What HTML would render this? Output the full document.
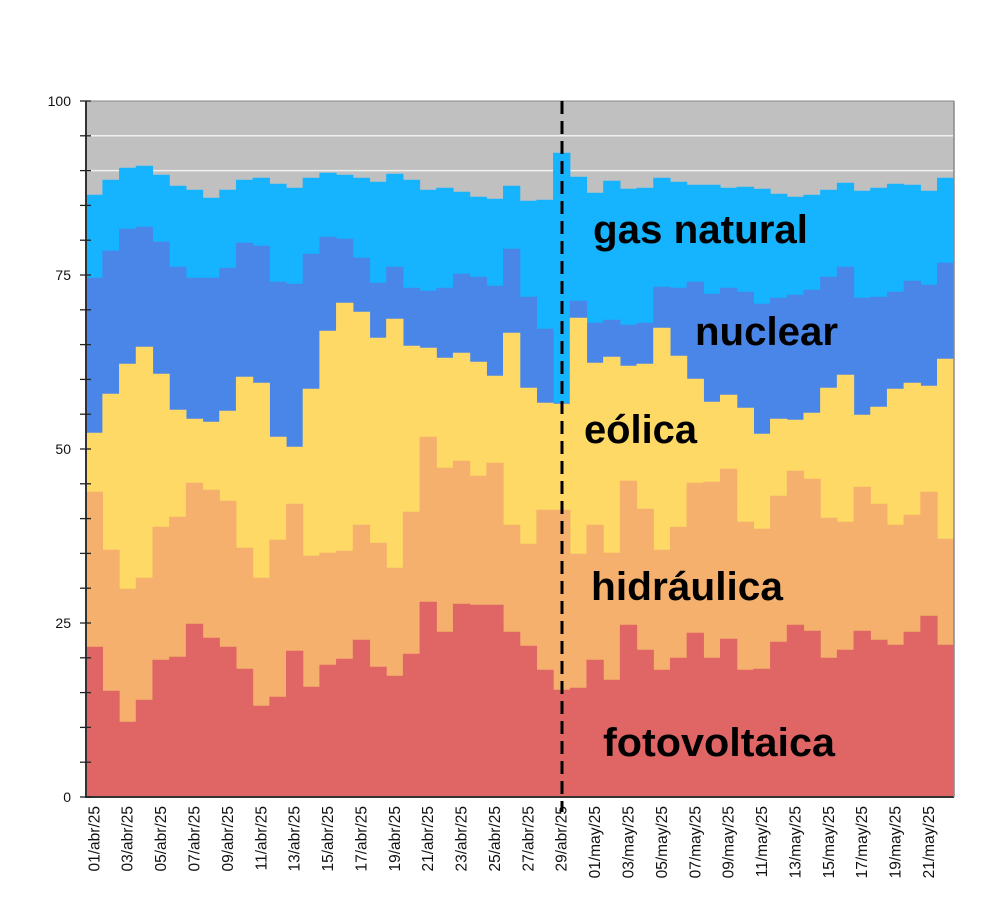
<!DOCTYPE html>
<html><head><meta charset="utf-8"><style>
html,body{margin:0;padding:0;background:#fff;}
svg{display:block;}
text{font-family:"Liberation Sans",Arial,sans-serif;}
</style></head><body>
<svg id="s" width="1000" height="920" xmlns="http://www.w3.org/2000/svg"></svg>
<script>
const gas=[195,180,168,166,175,186,190,198,190,180,178,184,188,178,173,175,178,182,174,180,190,188,192,197,199,186,201,200,153,177,193,181,189,188,178,182,185,185,188,187,189,194,197,195,190,183,191,188,184,185,191,178];
const nuc=[278,251,229,227,242,267,278,278,268,243,246,282,284,254,237,239,258,283,267,288,291,288,274,277,286,249,297,329,403,301,323,320,325,323,287,288,282,294,288,292,304,298,295,290,277,267,298,297,292,281,285,263];
const eol=[433,394,364,347,374,410,419,422,411,377,383,437,447,389,331,303,312,338,319,346,348,358,353,362,376,333,388,403,404,318,363,357,366,364,328,356,379,402,395,408,434,419,420,413,388,375,415,407,389,383,386,359];
const hid=[492,550,589,578,527,517,483,490,501,548,578,540,504,556,553,551,525,543,568,512,437,468,461,476,463,525,544,510,510,554,525,553,481,509,550,527,483,482,469,522,529,496,471,479,518,522,487,504,525,515,492,539];
const fot=[647,691,722,700,660,657,624,638,647,669,706,697,651,687,665,659,640,667,676,654,602,632,604,605,605,632,646,670,690,688,660,680,625,650,670,658,633,658,639,670,669,642,625,631,658,650,631,640,645,632,616,645];
const X0=86,X1=954,Y0=797,Y100=101,N=52,W=(X1-X0)/N;
const ns="http://www.w3.org/2000/svg",s=document.getElementById('s');
function el(t,a,txt){const e=document.createElementNS(ns,t);for(const k in a)e.setAttribute(k,a[k]);if(txt!==undefined)e.textContent=txt;s.appendChild(e);return e;}
el('rect',{x:X0,y:Y100,width:X1-X0,height:Y0-Y100,fill:'#c0c0c0'});
for(let v=5;v<100;v+=5){const y=Y0-v*(Y0-Y100)/100;el('line',{x1:X0,x2:X1,y1:y,y2:y,stroke:'#f0f0f0','stroke-width':1.5});}
function area(top,col){let d='M'+X0+','+Y0;for(let i=0;i<N;i++){const xa=X0+i*W,xb=X0+(i+1)*W;d+=' L'+xa.toFixed(2)+','+top[i]+' L'+xb.toFixed(2)+','+top[i];}d+=' L'+X1+','+Y0+' Z';el('path',{d:d,fill:col,stroke:col,'stroke-width':0.6});}
area(gas,'#16b4ff');area(nuc,'#4a86e8');area(eol,'#ffd966');area(hid,'#f4b06c');area(fot,'#e06666');
el('line',{x1:X0,x2:X0,y1:Y100,y2:Y0+1,stroke:'#333','stroke-width':2});
el('line',{x1:X0,x2:X1,y1:Y0,y2:Y0,stroke:'#333','stroke-width':2});
el('line',{x1:X1,x2:X1,y1:Y100,y2:Y0,stroke:'#888','stroke-width':1.5});
el('line',{x1:X0,x2:X1,y1:Y100,y2:Y100,stroke:'#888','stroke-width':1});
for(let v=0;v<=100;v+=5){const y=Y0-v*(Y0-Y100)/100;el('line',{x1:X0-6,x2:X0+5,y1:y,y2:y,stroke:'#222','stroke-width':1.3});
 if(v%25==0)el('text',{x:71,y:y+5,'text-anchor':'end','font-size':14,fill:'#111'},String(v));}
const may=['01/abr/25','03/abr/25','05/abr/25','07/abr/25','09/abr/25','11/abr/25','13/abr/25','15/abr/25','17/abr/25','19/abr/25','21/abr/25','23/abr/25','25/abr/25','27/abr/25','29/abr/25','01/may/25','03/may/25','05/may/25','07/may/25','09/may/25','11/may/25','13/may/25','15/may/25','17/may/25','19/may/25','21/may/25'];
may.forEach((l,k)=>{const x=X0+(2*k+0.5)*W+5;el('text',{x:0,y:0,transform:'translate('+x.toFixed(1)+',806) rotate(-90)','text-anchor':'end','font-size':15.5,fill:'#111'},l);});
el('line',{x1:562,x2:562,y1:101,y2:812,stroke:'#000','stroke-width':3,'stroke-dasharray':'13,7'});
const lab=[['gas natural',593,243,215],['nuclear',695,345,143],['eólica',584,443,113],['hidráulica',591,600,192],['fotovoltaica',603,756,232]];
lab.forEach(a=>el('text',{x:a[1],y:a[2],'font-size':40,'font-weight':'bold',fill:'#000',textLength:a[3],lengthAdjust:'spacingAndGlyphs'},a[0]));
</script>
</body></html>
